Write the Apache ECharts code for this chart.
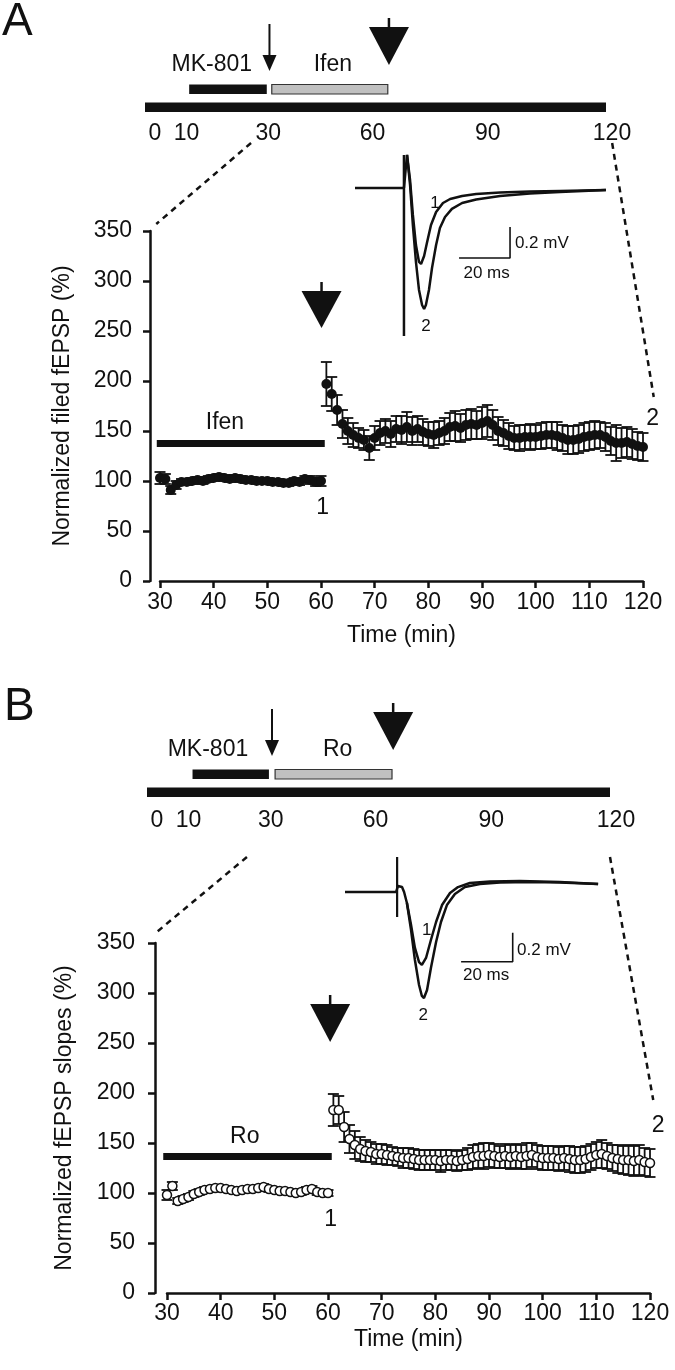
<!DOCTYPE html>
<html><head><meta charset="utf-8">
<script src="https://cdn.jsdelivr.net/npm/echarts@6/dist/echarts.min.js"></script>
<style>html,body{margin:0;padding:0;background:#fff}#c{width:675px;height:1370px}</style>
</head><body><div id="c"></div>
<script>
// ---------------- DATA ----------------
const minutes = [30,31,32,33,34,35,36,37,38,39,40,41,42,43,44,45,46,47,48,49,50,51,52,53,54,55,56,57,58,59,60,
  61,62,63,64,65,66,67,68,69,70,71,72,73,74,75,76,77,78,79,80,81,82,83,84,85,86,87,88,89,90,
  91,92,93,94,95,96,97,98,99,100,101,102,103,104,105,106,107,108,109,110,111,112,113,114,115,116,117,118,119,120];

// Panel A: Normalized field fEPSP (%), mean and SEM
const meanA = [103,102,91,96,99,99,100,101,100,102,103,104,103,102,103,102,101,101,100,100,100,99,99,98,98,100,99,102,101,99,100,
  197,187,171,157,150,146,143,141,133,143,148,150,147,152,151,154,150,152,149,147,146,148,150,154,155,153,156,157,156,158,
  160,156,150,148,145,143,143,144,144,144,145,146,146,145,143,141,141,142,144,145,146,146,144,140,138,138,139,137,135,134];
const errA = [6,5,4,4,3,3,3,3,3,3,3,3,3,3,3,3,3,3,3,3,3,3,3,3,3,3,3,3,4,4,5,
  22,17,15,14,13,12,10,10,12,12,12,12,13,13,14,15,14,13,13,12,13,12,13,14,15,14,15,15,14,16,
  16,15,14,13,13,12,13,12,13,12,13,13,13,14,13,14,14,14,14,14,14,13,14,14,18,15,15,15,14,14];

// Panel B: Normalized fEPSP slopes (%), mean and SEM
const meanB = [98,107,92,94,96,99,101,103,104,105,105,104,103,102,103,104,104,105,106,104,103,102,102,101,100,101,103,104,101,100,100,
  183,183,166,154,148,144,142,141,139,139,138,137,136,135,135,134,133,133,133,133,132,133,133,132,133,134,136,137,137,138,
  137,136,137,136,137,136,137,138,136,135,135,135,134,135,134,133,133,134,136,138,139,137,135,134,133,133,132,133,131,130];
const errB = [5,4,3,3,3,3,3,3,3,3,3,3,3,3,3,3,3,3,3,3,3,3,3,3,3,3,3,3,3,3,3,
  16,14,15,14,14,12,11,10,10,10,10,9,9,10,10,10,10,10,10,10,11,10,10,10,10,11,12,12,13,12,
  12,11,12,12,12,12,13,12,12,12,12,12,12,12,13,13,13,13,13,13,14,13,13,14,14,15,15,15,14,14];

// Protocol timelines (min)
const timelineTicks = [0,10,30,60,90,120];
const sessionA = [0,120], mk801A = [11.5,31.7], ifenA = [33,63.2], thinArrowA = 32.4, bigArrowA = 63.5;
const sessionB = [0,120], mk801B = [11.8,31.6], roB = [33.2,63.5], thinArrowB = 32.4, bigArrowB = 63.8;

// Drug bars / stimulation in the main plots (min, %)
const drugBarA = [29.4, 60.7, 137.5], tetanusA = 60.1;
const drugBarB = [29.3, 60.7, 136.5], tetanusB = 60.4;

// Example traces [ms, mV]
const trace1A = [[0,0],[19.2,0],[20.4,0.213],[21.6,0.05],[22.7,-0.174],[23.9,-0.368],[25.1,-0.477],[25.9,-0.49],[27.1,-0.439],[28.2,-0.355],[29.8,-0.239],[31.8,-0.155],[34.5,-0.097],[37.3,-0.071],[42,-0.052],[47.5,-0.039],[56.9,-0.029],[68.6,-0.023],[80.4,-0.019],[98.4,-0.013]];
const trace2A = [[20.4,0.213],[21.6,0.019],[22.7,-0.239],[23.9,-0.477],[25.1,-0.658],[26.3,-0.755],[27.1,-0.781],[27.8,-0.755],[29,-0.658],[30.2,-0.516],[31.8,-0.368],[33.3,-0.258],[35.3,-0.187],[38,-0.135],[42,-0.097],[47.5,-0.074],[56.9,-0.052],[68.6,-0.035],[80.4,-0.026],[98.4,-0.013]];
const artifactA = [[19.2,0.213],[19.2,-0.955]];
const scaleBarA = [[60.8,-0.252],[60.8,-0.452],[40.8,-0.452]];

const trace1B = [[0,0],[19.8,0],[20.5,0.041],[22.1,0.034],[22.9,0],[24,-0.076],[25.6,-0.228],[27.1,-0.386],[28.7,-0.483],[29.8,-0.503],[31.4,-0.455],[33.3,-0.331],[35.3,-0.207],[37.6,-0.09],[40.7,-0.007],[43.8,0.034],[48.4,0.062],[56.2,0.072],[67.8,0.076],[83.3,0.069],[98.1,0.055]];
const trace2B = [[24,-0.076],[25.6,-0.262],[27.1,-0.469],[28.7,-0.641],[29.8,-0.717],[30.6,-0.731],[31.8,-0.676],[33.3,-0.524],[35.3,-0.345],[37.2,-0.207],[39.5,-0.09],[42.6,-0.014],[46.5,0.034],[52.3,0.055],[60.1,0.066],[71.7,0.069],[83.3,0.066],[98.1,0.055]];
const artifactB = [[20.2,0.241],[20.2,-0.172]];
const scaleBarB = [[65,-0.281],[65,-0.481],[45,-0.481]];

// ---------------- LAYOUT / STYLE ----------------
const FONT = "'Liberation Sans', Arial, Helvetica, sans-serif";
const BLACK = '#111';
const chart = echarts.init(document.getElementById('c'), null, {renderer:'canvas', width:675, height:1370});

const G = {tlA:0, mainA:1, insA:2, tlB:3, mainB:4, insB:5};

function txt(text, x, y, size, align, vAlign) {
  return {type:'text', x:x, y:y, silent:true, style:{text:text, fill:BLACK, font: size+'px '+FONT, fontSize:size, fontFamily:FONT,
    align:align||'center', verticalAlign:vAlign||'middle', textAlign:align||'center', textVerticalAlign:vAlign||'middle'}};
}

const ROWS = [[0,9.5],[18,27.5]];
function tlBarRender(params, api) {
  const s = api.value(0), e = api.value(1), r = ROWS[api.value(2)];
  const p0 = api.coord([s, r[1]]), p1 = api.coord([e, r[0]]);
  return {type:'rect', shape:{x:p0[0], y:p0[1], width:p1[0]-p0[0], height:p1[1]-p0[1]}, style: api.style()};
}
function tlArrowRender(params, api) {
  const t = api.value(0), kind = api.value(1);
  if (kind === 0) {
    const a = api.coord([t, 88]), h = api.coord([t, 57]), tip = api.coord([t, 41]);
    return {type:'group', children:[
      {type:'line', shape:{x1:a[0], y1:a[1], x2:h[0], y2:h[1]+2}, style:{stroke:BLACK, lineWidth:2}},
      {type:'polygon', shape:{points:[[h[0]-7, h[1]],[h[0]+7, h[1]],[tip[0], tip[1]]]}, style:{fill:BLACK}}
    ]};
  } else {
    const a = api.coord([t, 94]), h = api.coord([t, 85]), tip = api.coord([t, 47]);
    return {type:'group', children:[
      {type:'line', shape:{x1:a[0], y1:a[1], x2:h[0], y2:h[1]+2}, style:{stroke:BLACK, lineWidth:2.5}},
      {type:'polygon', shape:{points:[[h[0]-20, h[1]],[h[0]+20, h[1]],[tip[0], tip[1]]]}, style:{fill:BLACK}}
    ]};
  }
}
function textSeries(gridKey, items, size, align) {
  return {type:'custom', xAxisIndex:G[gridKey], yAxisIndex:G[gridKey], silent:true, z:10,
    data: items.map(d => [d[1], d[2]]),
    renderItem: function(params, api) {
      const p = api.coord([api.value(0), api.value(1)]);
      return txt(items[params.dataIndex][0], p[0], p[1], size, align);
    }};
}
function errRender(params, api) {
  const x = api.value(0), m = api.value(1), e = api.value(2);
  const top = api.coord([x, m+e]), bot = api.coord([x, m-e]);
  const cw = 5.5, st = {stroke:BLACK, lineWidth:1.8};
  return {type:'group', children:[
    {type:'line', shape:{x1:top[0], y1:top[1], x2:bot[0], y2:bot[1]}, style:st},
    {type:'line', shape:{x1:top[0]-cw, y1:top[1], x2:top[0]+cw, y2:top[1]}, style:st},
    {type:'line', shape:{x1:bot[0]-cw, y1:bot[1], x2:bot[0]+cw, y2:bot[1]}, style:st}
  ]};
}
function drugBarRender(params, api) {
  const p0 = api.coord([api.value(0), api.value(2)]), p1 = api.coord([api.value(1), api.value(2)]);
  return {type:'rect', shape:{x:p0[0], y:p0[1]-3.5, width:p1[0]-p0[0], height:7}, style:{fill:BLACK}};
}
function mainArrowRender(v) {
  return function(params, api) {
    const t = api.value(0);
    const a = api.coord([t, v[0]]), h = api.coord([t, v[1]]), tip = api.coord([t, v[2]]);
    return {type:'group', children:[
      {type:'line', shape:{x1:a[0], y1:a[1], x2:h[0], y2:h[1]+2}, style:{stroke:BLACK, lineWidth:2.5}},
      {type:'polygon', shape:{points:[[h[0]-20, h[1]],[h[0]+20, h[1]],[tip[0], tip[1]]]}, style:{fill:BLACK}}
    ]};
  };
}

// per-label horizontal nudges of the protocol-timeline tick labels (px: +right)
const TL_NUDGE = [10, 3, 8, -3, -3, 6];
const tlRich = {};
TL_NUDGE.forEach((n, i) => {
  tlRich['o'+i] = {fontSize:23, fontFamily:FONT, color:BLACK, padding: n >= 0 ? [0,0,0,2*n] : [0,-2*n,0,0]};
});
function tlAxes(gi, margin) {
  return {
    x: {gridIndex:gi, type:'value', min:0, max:120, interval:10,
      axisLine:{show:false}, axisTick:{show:false}, splitLine:{show:false},
      axisLabel:{show:true, margin:margin, fontSize:23, color:BLACK, fontFamily:FONT, rich:tlRich,
        formatter: v => { const i = timelineTicks.indexOf(v); return i >= 0 ? '{o'+i+'|'+v+'}' : ''; }}},
    y: {gridIndex:gi, type:'value', min:0, max:100, show:false}
  };
}
function mainAxes(gi, yName, xOff, yOff, nameGapX, nameGapY, labMarginY) {
  return {
    x: {gridIndex:gi, type:'value', min:30, max:120, interval:10, offset:xOff,
      axisLine:{show:true, lineStyle:{color:BLACK, width:2.5}},
      axisTick:{show:true, inside:false, length:7, lineStyle:{color:BLACK, width:2.5}},
      splitLine:{show:false},
      axisLabel:{fontSize:23, color:BLACK, fontFamily:FONT, margin:8},
      name:'Time (min)', nameLocation:'middle', nameGap:nameGapX,
      nameTextStyle:{fontSize:23, color:BLACK, fontFamily:FONT}},
    y: {gridIndex:gi, type:'value', min:0, max:350, interval:50, offset:yOff,
      axisLine:{show:true, lineStyle:{color:BLACK, width:2.5}},
      axisTick:{show:true, inside:false, length:7, lineStyle:{color:BLACK, width:2.5}},
      splitLine:{show:false},
      axisLabel:{fontSize:23, color:BLACK, fontFamily:FONT, margin:labMarginY},
      name:yName, nameLocation:'middle', nameGap:nameGapY,
      nameTextStyle:{fontSize:23, color:BLACK, fontFamily:FONT}}
  };
}
function insAxes(gi, ymin, ymax) {
  return {
    x:{gridIndex:gi, type:'value', min:0, max:100, show:false},
    y:{gridIndex:gi, type:'value', min:ymin, max:ymax, show:false}
  };
}

const tA = tlAxes(G.tlA, 10), mA = mainAxes(G.mainA, 'Normalized filed fEPSP (%)', 2, 10, 41, 76, 18), iA = insAxes(G.insA, -1.0, 0.25);
const tB = tlAxes(G.tlB, 12), mB = mainAxes(G.mainB, 'Normalized fEPSP slopes (%)', 1, 12, 34, 79, 20), iB = insAxes(G.insB, -1.0, 0.3);

function lineS(gi, data, w) {
  return {type:'line', xAxisIndex:gi, yAxisIndex:gi, data:data, showSymbol:false, symbol:'none', silent:true,
    lineStyle:{color:BLACK, width:w||2}, clip:false, z:5};
}

const series = [
  // ---- timeline A
  {type:'custom', xAxisIndex:G.tlA, yAxisIndex:G.tlA, renderItem:tlBarRender, silent:true,
    data:[{value:[sessionA[0],sessionA[1],0], itemStyle:{color:BLACK}},
          {value:[mk801A[0],mk801A[1],1], itemStyle:{color:BLACK}},
          {value:[ifenA[0],ifenA[1],1], itemStyle:{color:'#c0c0c0', borderColor:'#333', borderWidth:1.2}}]},
  {type:'custom', xAxisIndex:G.tlA, yAxisIndex:G.tlA, renderItem:tlArrowRender, silent:true,
    data:[[thinArrowA,0],[bigArrowA,1]]},
  textSeries('tlA', [['MK-801', 17.4, 47], ['Ifen', 48.9, 47]], 23),
  // ---- main A
  {type:'custom', xAxisIndex:G.mainA, yAxisIndex:G.mainA, renderItem:errRender, silent:true, z:2,
    data: minutes.map((t,i) => [t, meanA[i], errA[i]])},
  {type:'scatter', xAxisIndex:G.mainA, yAxisIndex:G.mainA, symbol:'circle', symbolSize:10, silent:true, z:3,
    itemStyle:{color:BLACK, opacity:1}, data: minutes.map((t,i) => [t, meanA[i]])},
  {type:'custom', xAxisIndex:G.mainA, yAxisIndex:G.mainA, renderItem:drugBarRender, silent:true, data:[drugBarA]},
  {type:'custom', xAxisIndex:G.mainA, yAxisIndex:G.mainA, renderItem:mainArrowRender([299,290,253]), silent:true, data:[[tetanusA]]},
  textSeries('mainA', [['Ifen', 42.1, 158], ['1', 60.3, 73], ['2', 121.8, 162]], 23),
  // ---- inset A
  lineS(G.insA, trace1A, 2.5), lineS(G.insA, trace2A, 2.5), lineS(G.insA, artifactA, 2.5), lineS(G.insA, scaleBarA, 1.6),
  textSeries('insA', [['1', 31.4, -0.097], ['2', 27.8, -0.895], ['20 ms', 51.6, -0.548]], 17),
  textSeries('insA', [['0.2 mV', 62.7, -0.355]], 17, 'left'),
  // ---- timeline B
  {type:'custom', xAxisIndex:G.tlB, yAxisIndex:G.tlB, renderItem:tlBarRender, silent:true,
    data:[{value:[sessionB[0],sessionB[1],0], itemStyle:{color:BLACK}},
          {value:[mk801B[0],mk801B[1],1], itemStyle:{color:BLACK}},
          {value:[roB[0],roB[1],1], itemStyle:{color:'#c0c0c0', borderColor:'#333', borderWidth:1.2}}]},
  {type:'custom', xAxisIndex:G.tlB, yAxisIndex:G.tlB, renderItem:tlArrowRender, silent:true,
    data:[[thinArrowB,0],[bigArrowB,1]]},
  textSeries('tlB', [['MK-801', 15.8, 47], ['Ro', 49.4, 47]], 23),
  // ---- main B
  {type:'custom', xAxisIndex:G.mainB, yAxisIndex:G.mainB, renderItem:errRender, silent:true, z:2,
    data: minutes.map((t,i) => [t, meanB[i], errB[i]])},
  {type:'scatter', xAxisIndex:G.mainB, yAxisIndex:G.mainB, symbol:'circle', symbolSize:9, silent:true, z:3,
    itemStyle:{color:'#fff', borderColor:BLACK, borderWidth:1.5, opacity:1}, data: minutes.map((t,i) => [t, meanB[i]])},
  {type:'custom', xAxisIndex:G.mainB, yAxisIndex:G.mainB, renderItem:drugBarRender, silent:true, data:[drugBarB]},
  {type:'custom', xAxisIndex:G.mainB, yAxisIndex:G.mainB, renderItem:mainArrowRender([298,289,251]), silent:true, data:[[tetanusB]]},
  textSeries('mainB', [['Ro', 44.5, 156], ['1', 60.5, 73], ['2', 121.5, 167]], 23),
  // ---- inset B
  lineS(G.insB, trace1B, 2.5), lineS(G.insB, trace2B, 2.5), lineS(G.insB, artifactB, 2.2), lineS(G.insB, scaleBarB, 1.6),
  textSeries('insB', [['1', 31.7, -0.262], ['2', 30.3, -0.848], ['20 ms', 54.7, -0.572]], 17),
  textSeries('insB', [['0.2 mV', 66.7, -0.4]], 17, 'left')
];

const option = {
  animation:false,
  backgroundColor:'#fff',
  textStyle:{fontFamily:FONT},
  grid:[
    {left:145, top:12, width:461, height:100},
    {left:160, top:231, width:483, height:350},
    {left:355, top:149.25, width:255, height:193.75},
    {left:147, top:697, width:463, height:100},
    {left:167, top:943, width:483, height:350},
    {left:345, top:848.5, width:258, height:188.5}
  ],
  xAxis:[tA.x, mA.x, iA.x, tB.x, mB.x, iB.x],
  yAxis:[tA.y, mA.y, iA.y, tB.y, mB.y, iB.y],
  series: series,
  graphic: [
    {type:'text', left:2, top:-1, style:{text:'A', fontSize:46, fontFamily:FONT, fill:BLACK}},
    {type:'text', left:4, top:684, style:{text:'B', fontSize:46, fontFamily:FONT, fill:BLACK}}
  ]
};
chart.setOption(option);

// dashed connector lines from the protocol timeline to the expanded plot
function px(gi, v) { return chart.convertToPixel({xAxisIndex:gi, yAxisIndex:gi}, v); }
const dashStyle = {stroke:BLACK, lineWidth:2.5, lineDash:[6,5]};
const conn = [
  [px(G.tlA, [27.6, -31]), px(G.mainA, [29.3, 357])],
  [px(G.tlA, [121.6, -31]), px(G.mainA, [122.0, 184])],
  [px(G.tlB, [25.9, -60]), px(G.mainB, [28.1, 361])],
  [px(G.tlB, [120, -60]), px(G.mainB, [120.6, 193])]
];
chart.setOption({graphic: option.graphic.concat(conn.map(c => ({type:'line', silent:true,
  shape:{x1:c[0][0], y1:c[0][1], x2:c[1][0], y2:c[1][1]}, style:dashStyle})))});
</script></body></html>
